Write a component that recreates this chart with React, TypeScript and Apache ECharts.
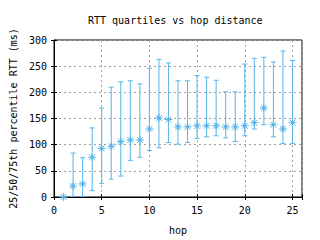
import React, { useEffect, useRef } from "react";
import * as echarts from "echarts";

const hops = [1, 2, 3, 4, 5, 6, 7, 8, 9, 10, 11, 12, 13, 14, 15, 16, 17, 18, 19, 20, 21, 22, 23, 24, 25];
const q1 = [0, 1, 1, 12, 26, 34, 40, 70, 76, 89, 94, 104, 101, 104, 112, 115, 117, 113, 106, 117, 130, 138, 115, 102, 102];
const median = [0, 21, 25, 76, 93, 97, 106, 109, 109, 130, 151, 148, 134, 134, 136, 136, 136, 134, 134, 136, 142, 170, 138, 130, 142];
const q3 = [1, 84, 75, 132, 170, 210, 220, 222, 216, 246, 263, 256, 222, 222, 232, 229, 223, 201, 201, 254, 265, 267, 258, 279, 261];

const FONT = "DejaVu Sans Mono";
const COLOR = "#56b4e9";

export default function App() {
  const ref = useRef<HTMLDivElement>(null);
  useEffect(() => {
    if (!ref.current) return;
    const chart = echarts.init(ref.current, null, { renderer: "svg" });
    const data = hops.map((h, i) => [h, q1[i], median[i], q3[i]]);
    const tick = { show: true, inside: true, length: 3, lineStyle: { color: "#000" } };
    chart.setOption({
      animation: false,
      backgroundColor: "#fff",
      title: {
        text: "RTT quartiles vs hop distance",
        left: 88,
        top: 15,
        padding: 0,
        textStyle: { fontFamily: FONT, fontSize: 10, fontWeight: "normal", color: "#000" },
      },
      grid: {
        left: 52,
        right: 18,
        top: 40,
        bottom: 42,
        show: true,
        borderColor: "#000",
        borderWidth: 1,
        backgroundColor: "transparent",
      },
      xAxis: [
        {
          type: "value",
          min: 0,
          max: 26,
          interval: 5,
          name: "hop",
          nameLocation: "middle",
          nameGap: 28,
          nameTextStyle: { fontFamily: FONT, fontSize: 10, color: "#000" },
          axisLine: { show: true, lineStyle: { color: "#000" } },
          axisTick: tick,
          axisLabel: {
            fontFamily: FONT,
            fontSize: 10,
            color: "#000",
            margin: 8,
            formatter: (v: number) => (v % 5 === 0 ? String(v) : ""),
          },
          splitLine: { show: true, lineStyle: { color: "#a0a0a0", type: [2, 3] } },
        },
        {
          type: "value",
          position: "top",
          min: 0,
          max: 26,
          interval: 5,
          axisLine: { show: true, lineStyle: { color: "#000" } },
          axisTick: tick,
          axisLabel: { show: false },
          splitLine: { show: false },
        },
      ],
      yAxis: [
        {
          type: "value",
          min: 0,
          max: 300,
          interval: 50,
          name: "25/50/75th percentile RTT (ms)",
          nameLocation: "middle",
          nameGap: 36,
          nameTextStyle: { fontFamily: FONT, fontSize: 10, color: "#000" },
          axisLine: { show: true, lineStyle: { color: "#000" } },
          axisTick: tick,
          axisLabel: { fontFamily: FONT, fontSize: 10, color: "#000", margin: 7 },
          splitLine: { show: true, lineStyle: { color: "#a0a0a0", type: [2, 3] } },
        },
        {
          type: "value",
          position: "right",
          min: 0,
          max: 300,
          interval: 50,
          axisLine: { show: true, lineStyle: { color: "#000" } },
          axisTick: tick,
          axisLabel: { show: false },
          splitLine: { show: false },
        },
      ],
      series: [
        {
          type: "custom",
          data,
          clip: false,
          xAxisIndex: 0,
          yAxisIndex: 0,
          renderItem: (params: any, api: any) => {
            const x = api.value(0);
            const pLo = api.coord([x, api.value(1)]);
            const pMed = api.coord([x, api.value(2)]);
            const pHi = api.coord([x, api.value(3)]);
            const c = 2.5;
            const s = 4;
            const d = 3;
            const st = { stroke: COLOR, lineWidth: 1, fill: null };
            const line = (x1: number, y1: number, x2: number, y2: number) => ({
              type: "line",
              shape: { x1, y1, x2, y2 },
              style: st,
            });
            const cx = pMed[0];
            const cy = pMed[1];
            return {
              type: "group",
              children: [
                line(pLo[0], pLo[1], pHi[0], pHi[1]),
                line(pLo[0] - c, pLo[1], pLo[0] + c, pLo[1]),
                line(pHi[0] - c, pHi[1], pHi[0] + c, pHi[1]),
                line(cx - s, cy, cx + s, cy),
                line(cx, cy - s, cx, cy + s),
                line(cx - d, cy - d, cx + d, cy + d),
                line(cx - d, cy + d, cx + d, cy - d),
                { type: "circle", shape: { cx, cy, r: 1.5 }, style: { fill: COLOR } },
              ],
            };
          },
        },
      ],
    });
    return () => chart.dispose();
  }, []);
  return <div ref={ref} style={{ width: 320, height: 240, position: "absolute", left: 0, top: 0 }} />;
}
